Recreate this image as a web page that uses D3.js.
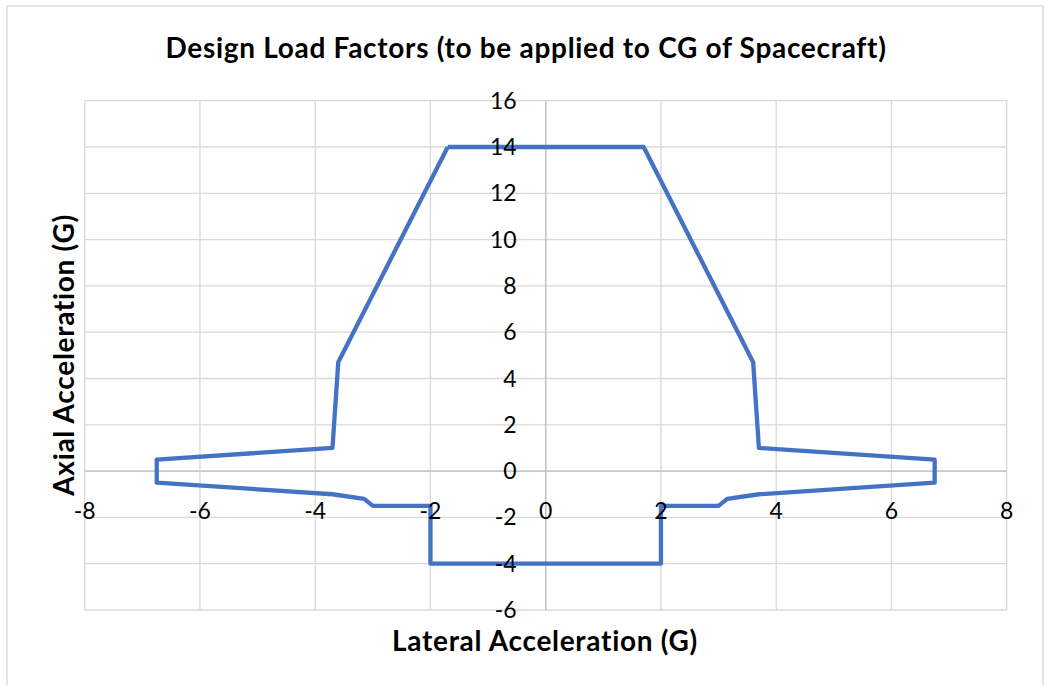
<!DOCTYPE html>
<html>
<head>
<meta charset="utf-8">
<script src="https://cdn.jsdelivr.net/npm/d3@7"></script>
<style>
  body { margin: 0; background: #fff; }
  text { font-family: Lato, "Open Sans", sans-serif; fill: #000; }
  .grid line { stroke: #d9d9d9; stroke-width: 1.3; }
  .tick-label { font-size: 23px; }
  .axis-title { font-size: 28px; font-weight: bold; letter-spacing: 0.7px; }
</style>
</head>
<body>
<svg id="chart" width="1045" height="685"></svg>
<script>
// envelope outline, walked clockwise from the top-left corner
let lateralG = [-1.7, 1.7, 3.6, 3.7, 6.75, 6.75, 3.7, 3.15, 3, 2, 2, -2, -2, -3, -3.15, -3.7, -6.75, -6.75, -3.7, -3.6, -1.7];
let axialG = [14, 14, 4.7, 1, 0.5, -0.5, -1, -1.2, -1.5, -1.5, -4, -4, -1.5, -1.5, -1.2, -1, -0.5, 0.5, 1, 4.7, 14];

let xTicks = [-8, -6, -4, -2, 0, 2, 4, 6, 8];
let yTicks = [-6, -4, -2, 0, 2, 4, 6, 8, 10, 12, 14, 16];

let chartTitle = "Design Load Factors (to be applied to CG of Spacecraft)";
let xTitle = "Lateral Acceleration (G)";
let yTitle = "Axial Acceleration (G)";

function draw() {
    const svg = d3.select("#chart");
    const x = d3.scaleLinear().domain([-8, 8]).range([84.7, 1006.7]);
    const y = d3.scaleLinear().domain([-6, 16]).range([610, 100.7]);

    // outer chart border (bottom edge runs off the picture)
    svg.append("rect")
        .attr("x", 7).attr("y", 6)
        .attr("width", 1036).attr("height", 700)
        .attr("fill", "#fff")
        .attr("stroke", "#d9d9d9")
        .attr("stroke-width", 1.3);

    const grid = svg.append("g").attr("class", "grid");
    grid.selectAll(".v").data(xTicks).enter().append("line")
        .attr("x1", d => x(d)).attr("x2", d => x(d))
        .attr("y1", y(16)).attr("y2", y(-6));
    grid.selectAll(".h").data(yTicks).enter().append("line")
        .attr("x1", x(-8)).attr("x2", x(8))
        .attr("y1", d => y(d)).attr("y2", d => y(d));

    // axis lines through the origin
    svg.append("line")
        .attr("x1", x(-8)).attr("x2", x(8))
        .attr("y1", y(0)).attr("y2", y(0))
        .attr("stroke", "#bfbfbf").attr("stroke-width", 1.3);
    svg.append("line")
        .attr("x1", x(0)).attr("x2", x(0))
        .attr("y1", y(16)).attr("y2", y(-6))
        .attr("stroke", "#bfbfbf").attr("stroke-width", 1.3);

    const pts = lateralG.map((v, i) => [v, axialG[i]]);
    const line = d3.line().x(d => x(d[0])).y(d => y(d[1]));
    svg.append("path")
        .datum(pts)
        .attr("d", line)
        .attr("fill", "none")
        .attr("stroke", "#4472c4")
        .attr("stroke-width", 4.3)
        .attr("stroke-linejoin", "round");

    // tick labels sit beside the axes that cross at the origin
    svg.selectAll(".xl").data(xTicks).enter().append("text")
        .attr("class", "tick-label")
        .attr("x", d => x(d))
        .attr("y", y(0) + 48)
        .attr("text-anchor", "middle")
        .text(d => d);
    svg.selectAll(".yl").data(yTicks).enter().append("text")
        .attr("class", "tick-label")
        .attr("x", x(0) - 29)
        .attr("y", d => y(d) + 8)
        .attr("text-anchor", "end")
        .text(d => d);

    svg.append("text")
        .attr("class", "axis-title")
        .attr("x", 526).attr("y", 58)
        .attr("text-anchor", "middle")
        .text(chartTitle);
    svg.append("text")
        .attr("class", "axis-title")
        .attr("x", 545).attr("y", 651)
        .attr("text-anchor", "middle")
        .text(xTitle);
    svg.append("text")
        .attr("class", "axis-title")
        .attr("transform", "translate(74,355) rotate(-90)")
        .attr("text-anchor", "middle")
        .text(yTitle);
}

window.onload = function () {
    draw();
};
</script>
</body>
</html>
